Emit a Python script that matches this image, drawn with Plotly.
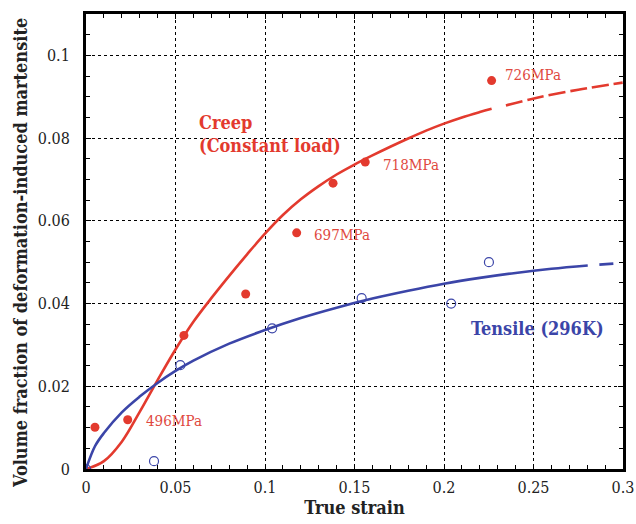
import plotly.graph_objects as go

# ---- data ----
creep_x = [0.005, 0.0233, 0.0547, 0.0892, 0.1177, 0.138, 0.156, 0.2266]
creep_y = [0.0101, 0.0119, 0.0323, 0.0423, 0.0571, 0.0691, 0.0742, 0.0939]

tens_x = [0.0, 0.038, 0.0527, 0.104, 0.154, 0.204, 0.2251]
tens_y = [0.0, 0.0019, 0.0251, 0.034, 0.0413, 0.040, 0.050]

creep_fit_x = [0, 0.01, 0.02, 0.03, 0.04, 0.05, 0.06, 0.07, 0.08, 0.09, 0.10, 0.11, 0.12, 0.13,
               0.14, 0.15, 0.16, 0.17, 0.18, 0.19, 0.20, 0.21, 0.22, 0.2266]
creep_fit_y = [0, 0.0019, 0.0066, 0.0138, 0.0215, 0.0289, 0.0356, 0.0413, 0.0467, 0.0519, 0.0569, 0.0614,
               0.0652, 0.0684, 0.0712, 0.0736, 0.0758, 0.0779, 0.0799, 0.0818, 0.0835, 0.0850, 0.0863, 0.0871]
creep_ext_x = [0.2346, 0.2514, 0.275, 0.2998]
creep_ext_y = [0.0879, 0.0897, 0.0917, 0.0934]

tens_fit_x = [0, 0.005, 0.01, 0.02, 0.03, 0.04, 0.05, 0.06, 0.08, 0.10, 0.12, 0.14, 0.16, 0.18,
              0.20, 0.22, 0.24, 0.26, 0.2803]
tens_fit_y = [0, 0.0055, 0.0087, 0.0137, 0.0175, 0.0208, 0.0237, 0.0262, 0.0303, 0.0336, 0.0365, 0.0390,
              0.0412, 0.0431, 0.0448, 0.0462, 0.0474, 0.0484, 0.0492]
tens_ext_x = [0.2868, 0.2995]
tens_ext_y = [0.0494, 0.0498]

labels = ["496MPa", "697MPa", "718MPa", "726MPa"]
label_x = [0.0324, 0.1261, 0.1648, 0.233]
label_y = [0.0117, 0.0565, 0.0734, 0.0952]

RED = "#e33a2e"
BLUE = "#3b45a8"
SERIF = "DejaVu Serif Condensed, DejaVu Serif, serif"

fig = go.Figure()
fig.add_trace(go.Scatter(x=creep_fit_x, y=creep_fit_y, mode="lines", line=dict(color=RED, width=2.6, shape="spline", smoothing=1.0), hoverinfo="skip"))
fig.add_trace(go.Scatter(x=creep_ext_x, y=creep_ext_y, mode="lines", line=dict(color=RED, width=2.6, shape="spline", dash="17px,5px"), hoverinfo="skip"))
fig.add_trace(go.Scatter(x=tens_fit_x, y=tens_fit_y, mode="lines", line=dict(color=BLUE, width=2.6, shape="spline", smoothing=1.0), hoverinfo="skip"))
fig.add_trace(go.Scatter(x=tens_ext_x, y=tens_ext_y, mode="lines", line=dict(color=BLUE, width=2.6, dash="14px,10px"), hoverinfo="skip"))
fig.add_trace(go.Scatter(x=creep_x, y=creep_y, mode="markers", marker=dict(color=RED, size=9, line=dict(width=0))))
fig.add_trace(go.Scatter(x=tens_x, y=tens_y, mode="markers", marker=dict(symbol="circle-open", color=BLUE, size=9, line=dict(width=1.2))))

for t, x, y in zip(labels, label_x, label_y):
    fig.add_annotation(x=x, y=y, text=t, showarrow=False, xanchor="left", yanchor="middle",
                       font=dict(family=SERIF, size=15, color="#e0483e"))

fig.add_annotation(x=0.0618, y=0.081, text="<b>Creep<br>(Constant load)</b>", showarrow=False,
                   xanchor="left", yanchor="middle", align="left",
                   font=dict(family=SERIF, size=18, color=RED))
fig.add_annotation(x=0.214, y=0.0339, text="<b>Tensile (296K)</b>", showarrow=False,
                   xanchor="left", yanchor="middle", align="left",
                   font=dict(family=SERIF, size=18, color=BLUE))

# y-axis title (placed slightly below the plot centre, as in the reference)
fig.add_annotation(xref="paper", yref="paper", x=-0.1229, y=0.4747, textangle=-90,
                   text="<b>Volume fraction of deformation-induced martensite</b>", showarrow=False,
                   xanchor="center", yanchor="middle",
                   font=dict(family=SERIF, size=18, color="#222"))

axis_common = dict(
    showline=True, linecolor="black", linewidth=3, mirror="allticks",
    ticks="inside", ticklen=5, tickwidth=1, tickcolor="black",
    showgrid=True, gridcolor="black", griddash="dot", gridwidth=1,
    zeroline=False, automargin=False,
    tickfont=dict(family=SERIF, size=16, color="#222"),
)

fig.update_xaxes(range=[0, 0.3], dtick=0.05, tick0=0,
                 minor=dict(dtick=0.01, ticks="inside", ticklen=4, tickcolor="black", showgrid=False),
                 title=dict(text="<b>True strain</b>", font=dict(family=SERIF, size=18, color="#222"), standoff=6),
                 ticklabelstandoff=2, **axis_common)
fig.update_yaxes(range=[0, 0.11], dtick=0.02, tick0=0,
                 minor=dict(dtick=0.005, ticks="inside", ticklen=4, tickcolor="black", showgrid=False),
                 ticklabelstandoff=10, **axis_common)

fig.update_layout(width=636, height=524, margin=dict(l=86, r=13, t=14, b=55),
                  plot_bgcolor="white", paper_bgcolor="white", showlegend=False)

fig.write_html("out.html")
